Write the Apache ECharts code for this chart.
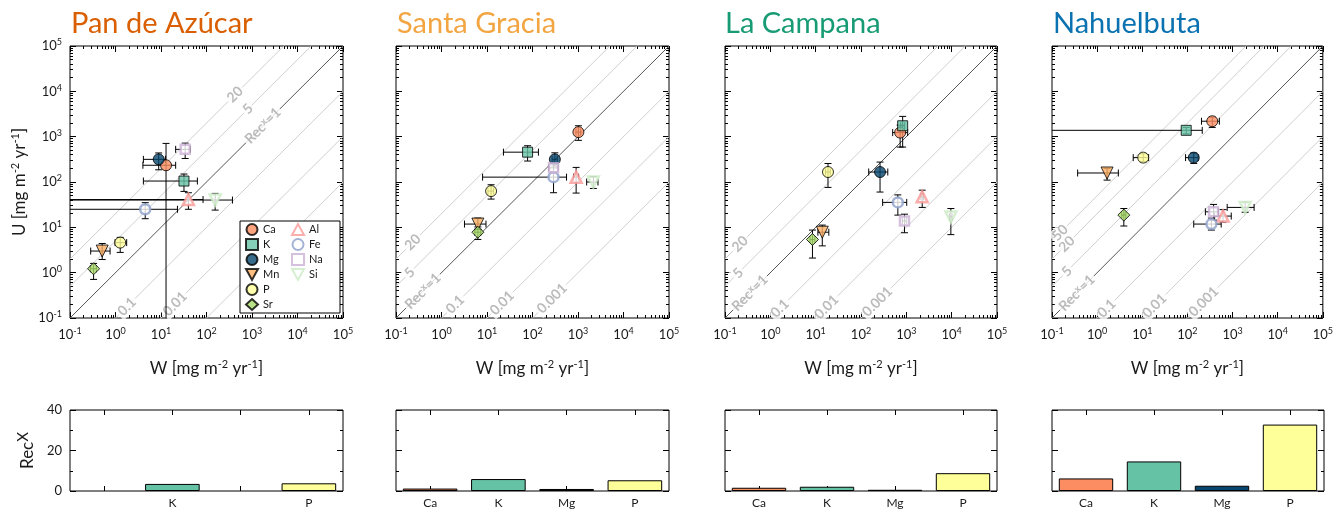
<!DOCTYPE html>
<html><head><meta charset="utf-8">
<script src="https://cdn.jsdelivr.net/npm/echarts@6/dist/echarts.min.js"></script>
<style>html,body{margin:0;padding:0;background:#fff}#c{width:1336px;height:511px}</style>
</head><body><div id="c"></div>
<script>
// ---------------- DATA ----------------
const elements = ['Ca','K','Mg','Mn','P','Sr','Al','Fe','Na','Si'];
const sites = ['Pan de Azúcar','Santa Gracia','La Campana','Nahuelbuta'];

// W = weathering flux, U = uptake flux [mg m-2 yr-1]; lo/hi = error bar ends (0 = extends below axis)
const pda_W   = [12.9, 32, 8.9, 0.51, 1.27, 0.33, 40, 4.5, 34, 155];
const pda_Wlo = [4, 4.1, 4.1, 0.285, 0.98, 0.28, 0, 0, 21, 0];
const pda_Whi = [21, 63, 12.5, 0.76, 1.76, 0.38, 84, 23, 44, 372];
const pda_U   = [234, 105, 316, 3.0, 4.6, 1.22, 41, 25, 525, 40];
const pda_Ulo = [0, 62, 186, 1.95, 2.8, 0.71, 25, 15.5, 330, 24];
const pda_Uhi = [710, 150, 437, 4.4, 6.0, 1.6, 58, 35, 720, 56];

const sg_W   = [1020, 78, 310, 6.3, 12.3, 6.3, 910, 290, 290, 2180];
const sg_Wlo = [900, 23, 270, 3.2, 10.5, 5.4, 800, 8, 230, 1550];
const sg_Whi = [1150, 135, 350, 9.5, 14, 7.3, 1030, 560, 360, 2750];
const sg_U   = [1260, 455, 316, 11.8, 63, 7.8, 128, 128, 205, 100];
const sg_Ulo = [830, 290, 225, 9, 42, 5.4, 57, 58, 160, 72];
const sg_Uhi = [1740, 630, 440, 16, 87, 10.2, 210, 170, 260, 130];

const lc_W   = [730, 830, 263, 14, 18.7, 8.5, 2240, 650, 910, 9600];
const lc_Wlo = [500, 750, 148, 11.2, 16.5, 7.5, 2100, 300, 820, 9000];
const lc_Whi = [1070, 920, 390, 19.5, 21, 9.6, 2400, 1020, 1000, 10200];
const lc_U   = [1230, 1740, 166, 7.8, 166, 5.4, 47, 35.5, 13.8, 17];
const lc_Ulo = [590, 590, 60, 3.9, 76, 2.1, 27.5, 18.6, 7.6, 6.9];
const lc_Uhi = [1800, 2800, 275, 11.2, 256, 8.7, 66, 52, 19.5, 26];

const nb_W   = [355, 94, 138, 1.66, 10.5, 3.9, 615, 340, 380, 1900];
const nb_Wlo = [205, 0, 91, 0.37, 6.3, 3.5, 400, 138, 250, 760];
const nb_Whi = [510, 213, 173, 2.95, 13.8, 4.3, 935, 560, 480, 3000];
const nb_U   = [2190, 1380, 345, 158, 345, 18.6, 17.7, 11.8, 22, 27.5];
const nb_Ulo = [1600, 1150, 257, 110, 280, 10.7, 13, 8.7, 14.4, 21.5];
const nb_Uhi = [2700, 1600, 435, 200, 420, 26, 24.6, 16, 32, 35.5];

// Rec^X bar values
const recCats = ['Ca','K','Mg','P'];
const rec_pda = [null, 3.5, null, 3.8];
const rec_sg  = [1.2, 5.9, 1.0, 5.3];
const rec_lc  = [1.6, 2.1, 0.6, 8.8];
const rec_nb  = [6.2, 14.6, 2.6, 32.8];

// Rec^X reference lines (U = ratio * W)
const ratios_pda = [20, 5, 1, 0.1, 0.01, 0.001];
const ratios_sg  = [20, 5, 1, 0.1, 0.01, 0.001];
const ratios_lc  = [20, 5, 1, 0.1, 0.01, 0.001];
const ratios_nb  = [50, 20, 5, 1, 0.1, 0.01, 0.001];

// axis tick exponents
const decadeExps = [-1, 0, 1, 2, 3, 4, 5];
const minorMult = [2, 3, 4, 5, 6, 7, 8, 9];

// ---------------- STYLE / LAYOUT ----------------
const FONT = 'Lato';
const TXT = '#1a1a1a';
const titleColors = ['#d95f02', '#f2a541', '#179b74', '#0a72b0'];
const DOWN = 'path://M0,0 L10,0 L5,9 Z';
const elStyle = {
  Ca: {symbol: 'circle', size: 11, color: '#fc8d62'},
  K:  {symbol: 'rect', size: 10, color: '#66c2a5'},
  Mg: {symbol: 'circle', size: 11, color: '#08466e'},
  Mn: {symbol: DOWN, size: 12, color: '#fdae61'},
  P:  {symbol: 'circle', size: 11, color: '#ffff99'},
  Sr: {symbol: 'diamond', size: 12, color: '#a6d96a'},
  Al: {symbol: 'triangle', size: 11, color: '#fb9a99', open: true},
  Fe: {symbol: 'circle', size: 10, color: '#8da0cb', open: true},
  Na: {symbol: 'rect', size: 9, color: '#cab2d6', open: true},
  Si: {symbol: DOWN, size: 11, color: '#ccebc5', open: true}
};
const barColors = {Ca: '#fc8d62', K: '#66c2a5', Mg: '#08466e', P: '#ffff99'};
const PX = [70, 396, 725, 1052];
const PW = [273, 273, 272, 272];
const TOP = 46, PH = 272;
const BTOP = 410, BH = 81;
const titleLeft = [66, 392, 720, 1048];
// label placement along each reference line (log10 W of label centre)
const labelPos = [
  {20: 2.63, 5: 2.91, 1: 3.24, 0.1: 0.25, 0.01: 1.31},
  {20: -0.63, 5: -0.70, 1: -0.41, 0.1: 0.30, 0.01: 1.33, 0.001: 2.43},
  {20: -0.67, 5: -0.71, 1: -0.45, 0.1: 0.21, 0.01: 1.24, 0.001: 2.36},
  {50: -0.82, 20: -0.67, 5: -0.67, 1: -0.45, 0.1: 0.21, 0.01: 1.27, 0.001: 2.36}
];

const siteData = [
  {W: pda_W, Wlo: pda_Wlo, Whi: pda_Whi, U: pda_U, Ulo: pda_Ulo, Uhi: pda_Uhi, rec: rec_pda, ratios: ratios_pda},
  {W: sg_W, Wlo: sg_Wlo, Whi: sg_Whi, U: sg_U, Ulo: sg_Ulo, Uhi: sg_Uhi, rec: rec_sg, ratios: ratios_sg},
  {W: lc_W, Wlo: lc_Wlo, Whi: lc_Whi, U: lc_U, Ulo: lc_Ulo, Uhi: lc_Uhi, rec: rec_lc, ratios: ratios_lc},
  {W: nb_W, Wlo: nb_Wlo, Whi: nb_Whi, U: nb_U, Ulo: nb_Ulo, Uhi: nb_Uhi, rec: rec_nb, ratios: ratios_nb}
];

const SUP = {s: {fontSize: 9, fontFamily: FONT, color: TXT, verticalAlign: 'top', lineHeight: 6}};
const SUPG = {s: {fontSize: 10, fontFamily: FONT, color: '#aaa', fontWeight: 'bold', verticalAlign: 'top', lineHeight: 7}};
const SUPN = {s: {fontSize: 11, fontFamily: FONT, color: TXT, verticalAlign: 'top', lineHeight: 7}};

const minorExps = [];
for (let k = -1; k < 5; k++) minorMult.forEach(m => minorExps.push(Math.log10(m) + k));

const grids = [], xAxes = [], yAxes = [], series = [];

function tickAxis(gi, pos, major, opts) {
  const a = {
    type: 'value', gridIndex: gi, position: pos, min: -1, max: 5, interval: 1,
    axisLine: {show: false, onZero: false}, splitLine: {show: false},
    axisTick: {show: true, inside: true, length: major ? 6 : 3, lineStyle: {color: '#000', width: 1}},
    axisLabel: {show: false}
  };
  if (!major) a.axisTick.customValues = minorExps;
  return Object.assign(a, opts || {});
}
const expFmt = v => '10{s|' + Math.round(v) + '}';

siteData.forEach((d, g) => {
  // scatter grid
  grids.push({left: PX[g], top: TOP, width: PW[g], height: PH, show: true, borderColor: '#000', borderWidth: 1, backgroundColor: 'transparent'});
  const sgi = grids.length - 1;
  const xLog = xAxes.length;
  xAxes.push({type: 'log', logBase: 10, gridIndex: sgi, min: 0.1, max: 100000, show: false});
  xAxes.push(tickAxis(sgi, 'bottom', true, {
    axisLabel: {show: true, formatter: expFmt, fontSize: 13, fontFamily: FONT, color: TXT, margin: 9, lineHeight: 16, rich: SUP},
    name: 'W [mg m{s|-2} yr{s|-1}]', nameLocation: 'middle', nameGap: 41,
    nameTextStyle: {fontSize: 17, fontFamily: FONT, color: TXT, lineHeight: 20, rich: SUPN}
  }));
  xAxes.push(tickAxis(sgi, 'bottom', false));
  xAxes.push(tickAxis(sgi, 'top', true));
  xAxes.push(tickAxis(sgi, 'top', false));
  const yLog = yAxes.length;
  yAxes.push({type: 'log', logBase: 10, gridIndex: sgi, min: 0.1, max: 100000, show: false});
  const yl = g === 0 ? {
    axisLabel: {show: true, formatter: expFmt, fontSize: 13, fontFamily: FONT, color: TXT, margin: 8, lineHeight: 16, rich: SUP},
    name: 'U [mg m{s|-2} yr{s|-1}]', nameLocation: 'middle', nameGap: 40,
    nameTextStyle: {fontSize: 17, fontFamily: FONT, color: TXT, lineHeight: 20, rich: SUPN}
  } : {};
  yAxes.push(tickAxis(sgi, 'left', true, yl));
  yAxes.push(tickAxis(sgi, 'left', false));
  yAxes.push(tickAxis(sgi, 'right', true));
  yAxes.push(tickAxis(sgi, 'right', false));

  // reference lines
  d.ratios.forEach(r => {
    series.push({
      type: 'line', xAxisIndex: xLog, yAxisIndex: yLog, silent: true, symbol: 'none', z: 1,
      data: [[0.1, 0.1 * r], [100000, 100000 * r]],
      lineStyle: {color: r === 1 ? '#555' : '#cfcfcf', width: 1}
    });
  });
  // reference line labels
  const lp = labelPos[g];
  const labData = Object.keys(lp).map(k => {
    const r = parseFloat(k); const w = Math.pow(10, lp[k]);
    return [w, w * r, r === 1 ? 'Rec{s|x}=1' : k];
  });
  series.push({
    type: 'scatter', xAxisIndex: xLog, yAxisIndex: yLog, silent: true, z: 2,
    symbolSize: 1, itemStyle: {color: 'rgba(0,0,0,0)'},
    data: labData,
    label: {show: true, position: 'inside', rotate: 45, formatter: p => p.data[2],
      fontSize: 14, fontWeight: 'bold', fontFamily: FONT, color: '#aaa',
      backgroundColor: '#fff', padding: [0, 2], lineHeight: 15, rich: SUPG}
  });
  // error bars
  series.push({
    type: 'custom', xAxisIndex: xLog, yAxisIndex: yLog, silent: true, z: 3,
    encode: {x: 0, y: 1},
    data: elements.map((e, i) => [d.W[i], d.U[i], d.Wlo[i], d.Whi[i], d.Ulo[i], d.Uhi[i]]),
    renderItem: (params, api) => {
      const cs = params.coordSys;
      const x = api.value(0), y = api.value(1);
      const xl = api.value(2), xh = api.value(3), yl2 = api.value(4), yh = api.value(5);
      const c = api.coord([x, y]);
      const cap = 3.5, ch = [];
      const st = {stroke: '#000', lineWidth: 1};
      const L = (x1, y1, x2, y2) => ch.push({type: 'line', shape: {x1, y1, x2, y2}, style: st});
      if (xl !== xh) {
        const pl = xl > 0 ? api.coord([xl, y])[0] : cs.x;
        const ph = api.coord([xh, y])[0];
        L(pl, c[1], ph, c[1]);
        if (xl > 0) L(pl, c[1] - cap, pl, c[1] + cap);
        L(ph, c[1] - cap, ph, c[1] + cap);
      }
      if (yl2 !== yh) {
        const pl = yl2 > 0 ? api.coord([x, yl2])[1] : cs.y + cs.height;
        const ph = api.coord([x, yh])[1];
        L(c[0], pl, c[0], ph);
        if (yl2 > 0) L(c[0] - cap, pl, c[0] + cap, pl);
        L(c[0] - cap, ph, c[0] + cap, ph);
      }
      return {type: 'group', children: ch};
    }
  });
  // markers
  elements.forEach((e, i) => {
    const s = elStyle[e];
    series.push({
      name: e, type: 'scatter', xAxisIndex: xLog, yAxisIndex: yLog, z: 4,
      symbol: s.symbol, symbolSize: s.size,
      itemStyle: s.open ? {color: '#fff', borderColor: s.color, borderWidth: 2.5}
                        : {color: s.color, borderColor: '#000', borderWidth: 1},
      data: [[d.W[i], d.U[i]]]
    });
  });

  // bar grid
  grids.push({left: PX[g], top: BTOP, width: PW[g], height: BH, show: true, borderColor: '#000', borderWidth: 1, backgroundColor: 'transparent'});
  const bgi = grids.length - 1;
  const bx = xAxes.length;
  const catTick = {show: true, inside: true, alignWithLabel: true, length: 5, lineStyle: {color: '#000'}};
  xAxes.push({type: 'category', gridIndex: bgi, position: 'bottom', data: recCats,
    axisLine: {show: false, onZero: false}, axisTick: catTick,
    axisLabel: {fontSize: 12, fontFamily: FONT, color: TXT, margin: 6,
      formatter: (v, idx) => d.rec[idx] == null ? '' : v}});
  xAxes.push({type: 'category', gridIndex: bgi, position: 'top', data: recCats,
    axisLine: {show: false, onZero: false}, axisTick: catTick, axisLabel: {show: false}});
  const by = yAxes.length;
  const valAx = (pos, labels) => ({type: 'value', gridIndex: bgi, position: pos, min: 0, max: 40, interval: 20,
    axisLine: {show: false, onZero: false}, splitLine: {show: false},
    axisTick: {show: true, inside: true, length: 6, lineStyle: {color: '#000'}},
    minorTick: {show: true, splitNumber: 2, length: 3, lineStyle: {color: '#000'}},
    minorSplitLine: {show: false},
    axisLabel: labels ? {show: true, fontSize: 13, fontFamily: FONT, color: TXT, margin: 8} : {show: false}});
  const yLeft = valAx('left', g === 0);
  if (g === 0) Object.assign(yLeft, {name: 'Rec{s|X}', nameLocation: 'middle', nameGap: 30,
    nameTextStyle: {fontSize: 17, fontFamily: FONT, color: TXT, lineHeight: 24,
      rich: {s: {fontSize: 15, fontFamily: FONT, color: TXT, verticalAlign: 'top', lineHeight: 4}}}});
  yAxes.push(yLeft);
  yAxes.push(valAx('right', false));
  series.push({
    type: 'bar', xAxisIndex: bx, yAxisIndex: by, barWidth: '80%', z: 2,
    itemStyle: {borderColor: '#000', borderWidth: 1},
    data: d.rec.map((v, i) => ({value: v, itemStyle: {color: barColors[recCats[i]]}}))
  });
});

const option = {
  animation: false,
  backgroundColor: '#fff',
  textStyle: {fontFamily: FONT},
  title: sites.map((s, i) => ({text: s, left: titleLeft[i], top: 4,
    textStyle: {fontSize: 29, fontWeight: 'normal', fontFamily: FONT, color: titleColors[i]}})),
  legend: {
    data: elements, orient: 'vertical', left: 240, top: 221, height: 88,
    itemGap: 2, itemWidth: 12, itemHeight: 11, padding: [2, 5, 2, 5],
    borderColor: '#000', borderWidth: 1, backgroundColor: '#fff', borderRadius: 0,
    selectedMode: false, z: 10,
    textStyle: {fontSize: 11, fontFamily: FONT, color: TXT, width: 26, lineHeight: 13}
  },
  grid: grids, xAxis: xAxes, yAxis: yAxes, series: series
};
const chart = echarts.init(document.getElementById('c'), null, {renderer: 'canvas'});
chart.setOption(option);
</script></body></html>
